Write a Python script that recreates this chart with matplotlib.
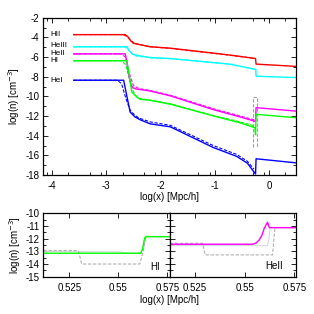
import matplotlib
matplotlib.use("Agg")
import matplotlib.pyplot as plt
import numpy as np
from matplotlib.ticker import FixedLocator, MultipleLocator

plt.rcParams["font.family"] = ["Liberation Sans", "DejaVu Sans"]
plt.rcParams["font.size"] = 7
plt.rcParams["axes.unicode_minus"] = False

# ---------------------------------------------------------------------------
# main panel: log(n) vs log(x), solid = run, dashed = reference
# ---------------------------------------------------------------------------
hii_x = [-3.6, -2.65, -2.6, -2.55, -2.5, -2.2, -1.82, -1.0, -0.72, -0.25, -0.245, -0.24, 0.49]
hii_y = [-3.72, -3.72, -3.95, -4.35, -4.6, -4.95, -5.1, -5.62, -5.8, -6.15, -6.45, -6.72, -6.95]

heiii_x = [-3.6, -2.62, -2.57, -2.5, -2.2, -1.82, -0.72, -0.245, -0.24, 0.49]
heiii_y = [-4.96, -4.96, -5.4, -5.75, -6.05, -6.15, -6.72, -7.27, -7.95, -8.09]

heii_x = [-3.6, -2.65, -2.62, -2.58, -2.54, -2.5, -2.45, -2.2, -1.82, -1.03, -0.53, -0.25, -0.24, 0.49]
heii_y = [-5.68, -5.68, -6.5, -8.0, -8.9, -9.15, -9.25, -9.45, -9.95, -11.35, -12.1, -12.55, -11.15, -11.5]

hi_x = [-3.6, -2.62, -2.58, -2.53, -2.44, -2.38, -2.19, -1.82, -1.0, -0.53, -0.26, -0.25, -0.24, 0.49]
hi_y = [-6.38, -6.38, -7.8, -9.55, -10.06, -10.3, -10.4, -10.8, -12.03, -12.7, -13.2, -13.9, -11.83, -12.17]

hei_x = [-3.6, -2.68, -2.62, -2.56, -2.47, -2.38, -2.19, -1.82, -1.03, -0.6, -0.4, -0.25, -0.24, 0.49]
hei_y = [-8.36, -8.36, -10.0, -11.6, -12.1, -12.37, -12.8, -13.1, -15.2, -16.1, -16.8, -17.9, -16.35, -16.76]

hii_xd = [-3.6, -2.7, -2.62, -2.55, -2.48, -2.2, -1.82, -0.72, -0.26]
hii_yd = [-3.72, -3.72, -3.9, -4.3, -4.62, -4.95, -5.12, -5.82, -6.15]

heiii_xd = [-3.6, -2.66, -2.59, -2.52, -2.45, -2.2, -1.82, -0.72, -0.26]
heiii_yd = [-4.96, -4.96, -5.3, -5.7, -5.9, -6.08, -6.17, -6.74, -7.25]

heii_xd = [-3.6, -2.72, -2.65, -2.58, -2.5, -2.4, -2.2, -1.82, -1.03, -0.53, -0.27]
heii_yd = [-5.68, -5.68, -6.0, -7.6, -8.9, -9.2, -9.4, -9.88, -11.25, -12.0, -12.4]

hi_xd = [-3.6, -2.72, -2.64, -2.56, -2.48, -2.4, -2.2, -1.82, -1.03, -0.53, -0.27]
hi_yd = [-6.38, -6.38, -6.8, -8.5, -9.8, -10.2, -10.38, -10.75, -11.95, -12.6, -13.0]

hei_xd = [-3.6, -2.8, -2.72, -2.64, -2.56, -2.48, -2.4, -2.19, -1.82, -1.03, -0.6, -0.4, -0.28]
hei_yd = [-8.36, -8.36, -8.7, -10.2, -11.4, -11.9, -12.2, -12.6, -12.95, -15.0, -15.9, -16.6, -17.4]

# grey reference curves squeezed into the jump region
grey_x = [-0.29, -0.29, -0.232, -0.232]
grey_y = [-15.15, -10.05, -10.05, -15.15]

species = ["HII", "HeIII", "HeII", "HI", "HeI"]
label_y = [-3.7, -4.85, -5.6, -6.4, -8.35]

# ---------------------------------------------------------------------------
# insets around the front (linear x)
# ---------------------------------------------------------------------------
hi_zx = [0.5118, 0.5616, 0.5624, 0.5631, 0.5636, 0.5642, 0.5764]
hi_zy = [-13.15, -13.15, -12.8, -12.2, -11.9, -11.84, -11.84]
hi_gdx = [0.5118, 0.5296, 0.5313, 0.561, 0.5627, 0.5641, 0.5764]
hi_gdy = [-12.94, -12.94, -14.0, -14.0, -13.0, -11.84, -11.84]
hi_gsx = [0.5118, 0.551, 0.556, 0.5612, 0.5628, 0.5642, 0.5764]
hi_gsy = [-13.0, -13.05, -13.15, -13.15, -12.6, -11.84, -11.84]

heii_zx = [0.5126, 0.554, 0.5557, 0.5573, 0.5588, 0.5598, 0.5608, 0.5615, 0.562, 0.5624, 0.5756]
heii_zy = [-12.44, -12.44, -12.35, -12.1, -11.7, -11.2, -10.9, -10.71, -10.95, -11.13, -11.13]
heii_gdx = [0.5126, 0.529, 0.5302, 0.564, 0.5652, 0.5756]
heii_gdy = [-12.37, -12.37, -13.28, -13.28, -11.13, -11.13]
heii_gsx = [0.5126, 0.5615, 0.5622, 0.5628, 0.5756]
heii_gsy = [-12.55, -12.55, -12.0, -11.13, -11.13]

cols = ["#ff0000", "#00ffff", "#ff00ff", "#00ff00", "#0000ff"]
dash = (0, (3, 1.5))

fig = plt.figure(figsize=(3.14, 3.14), dpi=100)

ax = fig.add_axes([0.1385, 0.4427, 0.8032, 0.5009])
solid = [(hii_x, hii_y), (heiii_x, heiii_y), (heii_x, heii_y), (hi_x, hi_y), (hei_x, hei_y)]
dashed = [(hii_xd, hii_yd), (heiii_xd, heiii_yd), (heii_xd, heii_yd), (hi_xd, hi_yd), (hei_xd, hei_yd)]
ax.plot(grey_x, grey_y, color="#a0a0a0", lw=0.8, ls=dash)
for (xs, ys), c in zip(dashed, cols):
    ax.plot(xs, ys, color=c, lw=0.8, ls=dash)
for (xs, ys), c in zip(solid, cols):
    ax.plot(xs, ys, color=c, lw=1.0)
for name, yy in zip(species, label_y):
    ax.text(-4.03, yy, name, fontsize=5.8, va="center", ha="left")

ax.set_xlim(-4.157, 0.49)
ax.set_ylim(-18, -2)
ax.set_xticks([-4, -3, -2, -1, 0])
ax.set_yticks(np.arange(-18, -1, 2))
minor_x = [n + np.log10(m) for n in range(-5, 1) for m in (2, 5, 8)]
ax.xaxis.set_minor_locator(FixedLocator(minor_x))
ax.yaxis.set_minor_locator(MultipleLocator(1))
ax.tick_params(which="both", direction="in", top=True, right=True, width=0.6)
ax.tick_params(which="major", length=3.5)
ax.tick_params(which="minor", length=2)
ax.tick_params(axis="x", pad=4.5)
ax.tick_params(axis="y", pad=3)
for s in ax.spines.values():
    s.set_linewidth(0.9)

# insets
axl = fig.add_axes([0.1385, 0.1188, 0.4029, 0.2019])
axr = fig.add_axes([0.5414, 0.1188, 0.4003, 0.2019])

axl.plot(hi_gsx, hi_gsy, color="#d8d8d8", lw=0.8)
axl.plot(hi_gdx, hi_gdy, color="#b0b0b0", lw=0.8, ls=dash)
axl.plot(hi_zx, hi_zy, color="#00ff00", lw=1.0)
axl.text(0.92, 0.16, "HI", transform=axl.transAxes, ha="right", va="center", fontsize=7)
axl.set_xlim(0.5118, 0.5764)

axr.plot(heii_gsx, heii_gsy, color="#d8d8d8", lw=0.8)
axr.plot(heii_gdx, heii_gdy, color="#b0b0b0", lw=0.8, ls=dash)
axr.plot(heii_zx, heii_zy, color="#ff00ff", lw=1.0)
axr.text(0.9, 0.17, "HeII", transform=axr.transAxes, ha="right", va="center", fontsize=7)
axr.set_xlim(0.5126, 0.5756)
axr.set_yticklabels([])

for a in (axl, axr):
    a.set_ylim(-15, -10)
    a.set_xticks([0.525, 0.55, 0.575])
    a.set_xticklabels(["0.525", "0.55", "0.575"])
    a.set_yticks(np.arange(-15, -9, 1))
    a.yaxis.set_minor_locator(MultipleLocator(0.5))
    a.tick_params(which="both", direction="in", top=True, right=True, width=0.6)
    a.tick_params(which="major", length=3.5)
    a.tick_params(which="minor", length=2)
    a.tick_params(axis="x", pad=4.5)
    a.tick_params(axis="y", pad=3)
    for s in a.spines.values():
        s.set_linewidth(0.9)
axr.set_yticklabels([])

fig.text(0.045, 1 - 96 / 314, "log(n) [cm$^{-3}$]", rotation=90, ha="center", va="center")
fig.text(169.6 / 314, 1 - 197 / 314, "log(x) [Mpc/h]", ha="center", va="center")
fig.text(0.047, 1 - 245 / 314, "log(n) [cm$^{-3}$]", rotation=90, ha="center", va="center")
fig.text(0.5414, 1 - 300 / 314, "log(x) [Mpc/h]", ha="center", va="center")

fig.savefig("out.png", dpi=100)
